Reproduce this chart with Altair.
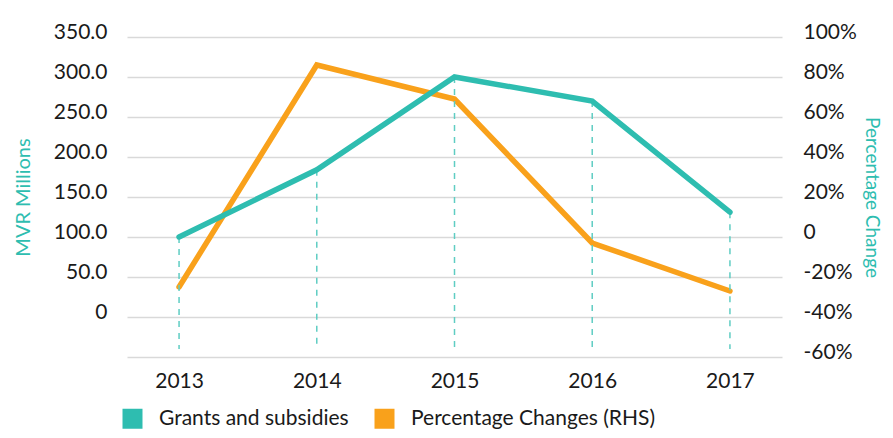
import altair as alt
import pandas as pd

years = ["2013", "2014", "2015", "2016", "2017"]
grants = [100, 184, 300, 270, 131]
pct_change = [-25, 86, 69, -3, -27]
left_ticks = [-50, 0, 50, 100, 150, 200, 250, 300, 350]
right_ticks = [-60, -40, -20, 0, 20, 40, 60, 80, 100]
series = ["Grants and subsidies", "Percentage Changes (RHS)"]

TEAL = "#2ebdb0"
ORANGE = "#f9a11b"
DASH = "#5fcdc3"
TEXT = "#1a1a1a"

df = pd.DataFrame({
    "year": years, "grants": grants, "pct": pct_change,
    "s_grants": [series[0]] * len(years), "s_pct": [series[1]] * len(years),
})

color_scale = alt.Scale(domain=series, range=[TEAL, ORANGE])
legend = alt.Legend(
    title=None, orient="none", legendX=-5, legendY=371, direction="horizontal",
    symbolType="square", symbolSize=100, symbolStrokeWidth=10, symbolOpacity=1,
    labelFontSize=21, labelOffset=16, columnPadding=10, labelColor=TEXT,
    labelLimit=500,
)

x = alt.X(
    "year:O",
    scale=alt.Scale(type="point", padding=0.378),
    axis=alt.Axis(title=None, labelAngle=0, labelFontSize=21, labelPadding=13,
                  domain=False, ticks=False, grid=False, labelColor=TEXT),
)

left_y = alt.Y(
    "grants:Q",
    scale=alt.Scale(domain=[-50, 350], nice=False, zero=False),
    axis=alt.Axis(
        values=left_ticks,
        labelExpr="datum.value == -50 ? '' : datum.value == 0 ? '0' : format(datum.value, '.1f')",
        grid=True, gridColor="#d9d9d9", gridWidth=1.5, domain=False, ticks=False,
        labelFontSize=21, labelPadding=20, labelBaseline="alphabetic", labelOffset=1,
        labelColor=TEXT,
        title="MVR Millions", titleColor=TEAL, titleFontSize=20, titleFontWeight="normal",
        titleX=-104, titleY=160, titleAngle=270, titleAlign="center", titleBaseline="middle",
    ),
)

right_y = alt.Y(
    "pct:Q",
    scale=alt.Scale(domain=[-60, 100], nice=False, zero=False),
    axis=alt.Axis(
        orient="right", values=right_ticks,
        labelExpr="datum.value == 0 ? '0' : datum.value + '%'",
        grid=False, domain=False, ticks=False,
        labelFontSize=21, labelPadding=21, labelBaseline="alphabetic", labelOffset=1,
        labelColor=TEXT,
        title="Percentage Change", titleColor=TEAL, titleFontSize=19, titleFontWeight="normal",
        titleX=89, titleY=160, titleAngle=90, titleAlign="center", titleBaseline="middle",
    ),
)

base = alt.Chart(df)

drops = base.mark_rule(color=DASH, strokeWidth=1.5, strokeDash=[6, 6]).encode(
    x=x, y=left_y, y2=alt.datum(-40)
)
grants_line = base.mark_line(strokeWidth=5.5, strokeCap="round").encode(
    x=x, y=left_y, color=alt.Color("s_grants:N", scale=color_scale, legend=legend)
)
pct_line = base.mark_line(strokeWidth=5.5, strokeCap="round").encode(
    x=x, y=right_y, color=alt.Color("s_pct:N", scale=color_scale, legend=legend)
)

left = alt.layer(drops, grants_line)
chart = (
    alt.layer(pct_line, left)
    .resolve_scale(y="independent")
    .properties(
        width=655, height=320,
        autosize=alt.AutoSizeParams(type="none"),
        padding={"left": 119, "top": 29, "right": 103, "bottom": 73},
    )
    .configure(font="Lato")
    .configure_view(stroke=None)
)

chart.save("out.html", embed_options={"renderer": "svg", "actions": False})
